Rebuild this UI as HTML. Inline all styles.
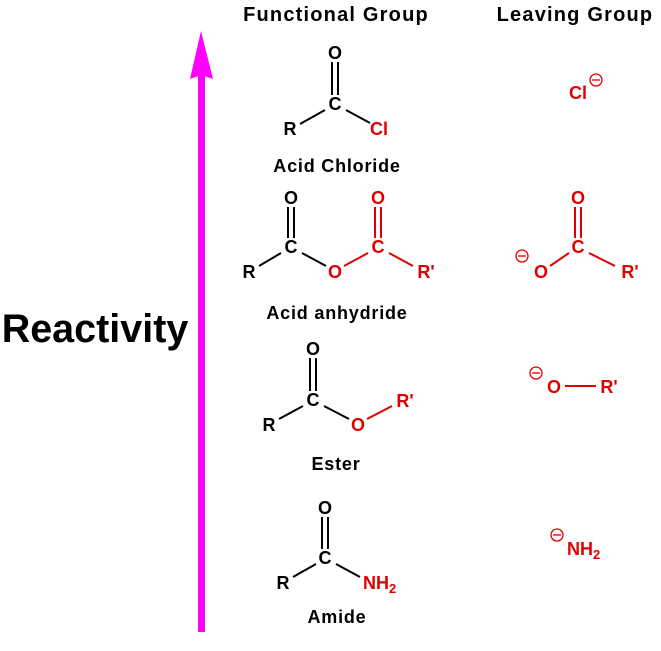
<!DOCTYPE html>
<html><head><meta charset="utf-8"><style>
html,body{margin:0;padding:0;background:#fff;}
svg{display:block;}
text{font-family:"Liberation Sans",Arial,sans-serif;font-weight:bold;}
.a{font-size:18px;text-anchor:middle;dominant-baseline:central;}
.l{font-size:18px;text-anchor:middle;letter-spacing:0.8px;}
.k{stroke:#000;stroke-width:2;fill:none;}
.r{stroke:#e00000;stroke-width:2;fill:none;}
.rf{fill:#e00000;}
</style></head><body>
<svg width="661" height="651" viewBox="0 0 661 651" xmlns="http://www.w3.org/2000/svg">
<rect x="198" y="74" width="7" height="558" fill="#ff00ff"/>
<polygon points="201,31 213,79 201,75 190,79" fill="#ff00ff"/>
<text x="95" y="342" style="font-size:39.5px;text-anchor:middle">Reactivity</text>
<text x="336" y="21" style="font-size:20px;text-anchor:middle;letter-spacing:1.2px">Functional Group</text>
<text x="575" y="21" style="font-size:20px;text-anchor:middle;letter-spacing:1.2px">Leaving Group</text>

<text class="a" x="335" y="53">O</text>
<text class="a" x="335" y="104">C</text>
<text class="a" x="290" y="129">R</text>
<text class="a rf" x="379" y="129">Cl</text>
<line class="k" x1="332" y1="62" x2="332" y2="95"/><line class="k" x1="338" y1="62" x2="338" y2="95"/>
<line class="k" x1="300" y1="124" x2="325" y2="110"/>
<line class="k" x1="346" y1="110" x2="370" y2="123"/>
<text class="l" x="337" y="172">Acid Chloride</text>

<text class="a" x="291" y="198">O</text>
<text class="a" x="291" y="247">C</text>
<text class="a" x="249" y="272">R</text>
<text class="a rf" x="335" y="272">O</text>
<text class="a rf" x="378" y="247">C</text>
<text class="a rf" x="378" y="198">O</text>
<text class="a rf" x="426" y="272">R'</text>
<line class="k" x1="288" y1="207" x2="288" y2="238"/><line class="k" x1="294" y1="207" x2="294" y2="238"/>
<line class="k" x1="259" y1="266" x2="281" y2="253"/>
<line class="k" x1="302" y1="253" x2="326" y2="266"/>
<line class="r" x1="344" y1="266" x2="368" y2="253"/>
<line class="r" x1="375" y1="207" x2="375" y2="238"/><line class="r" x1="381" y1="207" x2="381" y2="238"/>
<line class="r" x1="389" y1="253" x2="413" y2="266"/>
<text class="l" x="337" y="319">Acid anhydride</text>

<text class="a" x="313" y="349">O</text>
<text class="a" x="313" y="400">C</text>
<text class="a" x="269" y="425">R</text>
<text class="a rf" x="358" y="425">O</text>
<text class="a rf" x="405" y="401">R'</text>
<line class="k" x1="310" y1="358" x2="310" y2="391"/><line class="k" x1="316" y1="358" x2="316" y2="391"/>
<line class="k" x1="279" y1="419" x2="303" y2="406"/>
<line class="k" x1="324" y1="406" x2="349" y2="419"/>
<line class="r" x1="367" y1="419" x2="392" y2="406"/>
<text class="l" x="336" y="470">Ester</text>

<text class="a" x="325" y="508">O</text>
<text class="a" x="325" y="558">C</text>
<text class="a" x="283" y="583">R</text>
<text class="a rf" x="363" y="583" style="text-anchor:start">NH<tspan style="font-size:13px" dy="5">2</tspan></text>
<line class="k" x1="322" y1="517" x2="322" y2="549"/><line class="k" x1="328" y1="517" x2="328" y2="549"/>
<line class="k" x1="293" y1="577" x2="316" y2="564"/>
<line class="k" x1="336" y1="564" x2="360" y2="577"/>
<text class="l" x="337" y="623">Amide</text>

<text class="a rf" x="578" y="93">Cl</text>
<circle class="r" cx="596" cy="80" r="6" style="stroke-width:1.3"/><line class="r" x1="592" y1="80" x2="600" y2="80" style="stroke-width:1.3"/>

<text class="a rf" x="578" y="198">O</text>
<text class="a rf" x="578" y="247">C</text>
<text class="a rf" x="541" y="272">O</text>
<text class="a rf" x="630" y="272">R'</text>
<line class="r" x1="575" y1="207" x2="575" y2="238"/><line class="r" x1="581" y1="207" x2="581" y2="238"/>
<line class="r" x1="550" y1="266" x2="569" y2="253"/>
<line class="r" x1="589" y1="253" x2="615" y2="266"/>
<circle class="r" cx="522" cy="256" r="6" style="stroke-width:1.3"/><line class="r" x1="518" y1="256" x2="526" y2="256" style="stroke-width:1.3"/>

<text class="a rf" x="554" y="387">O</text>
<line class="r" x1="565" y1="386" x2="596" y2="386"/>
<text class="a rf" x="609" y="387">R'</text>
<circle class="r" cx="536" cy="373" r="6" style="stroke-width:1.3"/><line class="r" x1="532" y1="373" x2="540" y2="373" style="stroke-width:1.3"/>

<text class="a rf" x="567" y="549" style="text-anchor:start">NH<tspan style="font-size:13px" dy="5">2</tspan></text>
<circle class="r" cx="557" cy="535" r="6" style="stroke-width:1.3"/><line class="r" x1="553" y1="535" x2="561" y2="535" style="stroke-width:1.3"/>
</svg>
</body></html>
